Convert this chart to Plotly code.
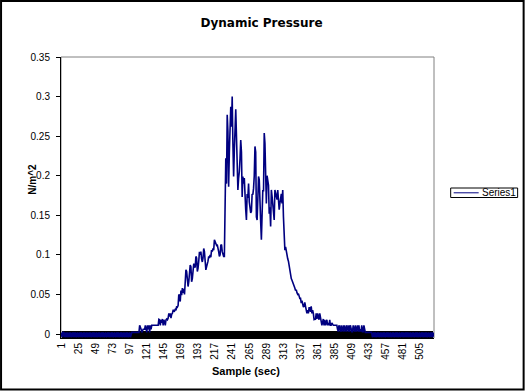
import plotly.graph_objects as go

# ---------------- data ----------------
title_text = "Dynamic Pressure"
x_title = "Sample (sec)"
y_title = "N/m^2"
series_name = "Series1"

# samples 1-99 : baseline with small flicker
seg_start = [
    0.002, -0.004, 0.002, 0.002, -0.004, 0.002, -0.004, 0.002, 0.002, -0.004,
    0.002, 0.002, -0.004, 0.002, -0.004, 0.002, 0.002, -0.004, 0.002, -0.004,
    0.002, -0.004, 0.002, 0.002, -0.004, 0.002, 0.002, -0.004, 0.002, -0.004,
    0.002, 0.002, -0.004, 0.002, -0.004, 0.002, 0.002, -0.004, 0.002, 0.002,
    -0.004, 0.002, -0.004, 0.002, 0.002, -0.004, 0.002, -0.004, 0.002, 0.002,
    -0.004, 0.002, 0.002, -0.004, 0.002, -0.004, 0.002, 0.002, -0.004, 0.002,
    -0.004, 0.002, 0.002, -0.004, 0.002, 0.002, -0.004, 0.002, -0.004, 0.002,
    0.002, -0.004, 0.002, -0.004, 0.002, 0.002, -0.004, 0.002, 0.002, -0.004,
    0.002, -0.004, 0.002, 0.002, -0.004, 0.002, -0.004, 0.002, 0.002, -0.004,
    0.002, 0.002, -0.004, 0.002, -0.004, 0.002, 0.002, -0.004, 0.002,
]

# samples 100-230 : slow rise
seg_rise = [
    0.002, 0.002, 0.002, 0.002, 0.002, 0.002, 0.002, 0.002, 0.002, 0.002, 0.002,
    0.011,
    0.006, 0.006, 0.002, 0.006, 0.006, 0.006, 0.006,
    0.011, 0.006, 0.002, 0.011, 0.006, 0.011, 0.002, 0.011, 0.006, 0.011, 0.011,
    0.011, 0.011, 0.011, 0.011, 0.011, 0.011, 0.011, 0.011,
    0.0185, 0.018,
    0.011, 0.018, 0.014, 0.019, 0.011, 0.018, 0.015, 0.011, 0.018, 0.019, 0.018,
    0.020, 0.026, 0.022, 0.026, 0.020, 0.025, 0.026,
    0.030, 0.030, 0.029, 0.031, 0.030,
    0.035, 0.034, 0.036,
    0.050, 0.049, 0.041,
    0.055, 0.049, 0.058, 0.052, 0.057, 0.050,
    0.062, 0.081, 0.079, 0.070,
    0.060, 0.066, 0.075,
    0.087, 0.085, 0.066,
    0.070, 0.081, 0.089, 0.085, 0.084,
    0.098, 0.096,
    0.079, 0.083, 0.092,
    0.104, 0.100, 0.104, 0.095,
    0.091, 0.096,
    0.108, 0.104, 0.092,
    0.081, 0.085, 0.088, 0.092,
    0.098, 0.096, 0.100, 0.097,
    0.106, 0.104, 0.108, 0.106,
    0.119, 0.116,
    0.113, 0.112, 0.113, 0.110, 0.104,
    0.098, 0.100,
    0.112, 0.113, 0.104,
    0.098, 0.098, 0.098,
]

# samples 231-317 : peak
seg_peak = [
    0.159, 0.222, 0.190, 0.277, 0.256, 0.186, 0.230, 0.270, 0.287, 0.262,
    0.300, 0.240, 0.199, 0.232, 0.265, 0.284, 0.250, 0.211, 0.182, 0.197,
    0.205, 0.222, 0.245, 0.230, 0.173, 0.199, 0.190, 0.197, 0.168, 0.157,
    0.144, 0.177, 0.172, 0.190, 0.167, 0.159, 0.153, 0.155, 0.177, 0.176,
    0.184, 0.200, 0.237, 0.230, 0.148, 0.144, 0.170, 0.199, 0.195, 0.144,
    0.142, 0.119, 0.150, 0.182, 0.180, 0.254, 0.241, 0.200, 0.165, 0.200,
    0.190, 0.188, 0.152, 0.160, 0.136, 0.182, 0.174, 0.165, 0.160, 0.144,
    0.182, 0.178, 0.176, 0.170, 0.182, 0.168, 0.157, 0.165, 0.172, 0.177,
    0.165, 0.182, 0.148, 0.127, 0.106, 0.110, 0.104,
]

# samples 318-437 : decay
seg_decay = [
    0.096, 0.095, 0.092, 0.085, 0.078, 0.072, 0.070, 0.068, 0.066, 0.062,
    0.060, 0.058, 0.055, 0.056, 0.052, 0.050, 0.051, 0.047, 0.045,
    0.045, 0.039, 0.042,
    0.035, 0.034, 0.035,
    0.040, 0.035,
    0.026, 0.026, 0.030, 0.026,
    0.033, 0.033, 0.028,
    0.035, 0.026, 0.030, 0.026,
    0.0185, 0.019, 0.018,
    0.026, 0.019, 0.026, 0.022, 0.018, 0.026, 0.019,
    0.018, 0.011, 0.015, 0.019, 0.011, 0.018, 0.011, 0.015,
    0.018, 0.011, 0.014, 0.011, 0.018, 0.011, 0.011, 0.014,
    0.011, 0.011, 0.011, 0.011, 0.011, 0.011, 0.011,
    0.006, 0.003, 0.011, 0.006, 0.003, 0.011, 0.003, 0.006, 0.011, 0.003,
    0.011, 0.006, 0.003, 0.011, 0.006, 0.003, 0.011, 0.003, 0.011, 0.006,
    0.003, 0.003, 0.011, 0.006, 0.003, 0.011, 0.003, 0.006, 0.011, 0.003,
    0.011, 0.003, 0.006, 0.003, 0.011, 0.003, 0.003,
    0.011,
    0.002, 0.002, 0.002, 0.002, 0.002, 0.002, 0.002, 0.002, 0.002, 0.002, 0.002,
]

# samples 438-524 : baseline with small flicker
seg_tail = [
    -0.004, 0.002, 0.002, -0.004, 0.002, -0.004, 0.002, 0.002, -0.004, 0.002,
    -0.004, 0.002, 0.002, -0.004, 0.002, 0.002, -0.004, 0.002, -0.004, 0.002,
    0.002, -0.004, 0.002, -0.004, 0.002, 0.002, -0.004, 0.002, 0.002, -0.004,
    0.002, -0.004, 0.002, 0.002, -0.004, 0.002, -0.004, 0.002, 0.002, -0.004,
    0.002, 0.002, -0.004, 0.002, -0.004, 0.002, 0.002, -0.004, 0.002, -0.004,
    0.002, -0.004, 0.002, 0.002, -0.004, 0.002, 0.002, -0.004, 0.002, -0.004,
    0.002, 0.002, -0.004, 0.002, -0.004, 0.002, 0.002, -0.004, 0.002, 0.002,
    -0.004, 0.002, -0.004, 0.002, 0.002, -0.004, 0.002, -0.004, 0.002, 0.002,
    -0.004, 0.002, 0.002, -0.004, 0.002, -0.004, 0.002,
]

pressure = seg_start + seg_rise + seg_peak + seg_decay + seg_tail
samples = list(range(1, len(pressure) + 1))

x_tick_vals = [1, 25, 49, 73, 97, 121, 145, 169, 193, 217, 241, 265, 289, 313,
               337, 361, 385, 409, 433, 457, 481, 505]
x_tick_text = [str(v) for v in x_tick_vals]
y_tick_vals = [0, 0.05, 0.1, 0.15, 0.2, 0.25, 0.3, 0.35]
y_tick_text = ["0", "0.05", "0.1", "0.15", "0.2", "0.25", "0.3", "0.35"]

# ---------------- figure ----------------
W, H = 526, 391
L, R, T, B = 61, 434.3, 57, 338
pw, ph = R - L, B - T


def px(x):
    return (x - L) / pw


def py(y):
    return (B - y) / ph


navy = "#000080"
fig = go.Figure()
fig.add_trace(go.Scatter(
    x=samples, y=pressure, mode="lines", name=series_name,
    line=dict(color=navy, width=1.6), showlegend=False,
))

tick_font = dict(family="Liberation Sans, Arial, sans-serif", size=10, color="black")

fig.update_layout(
    width=W, height=H,
    margin=dict(l=L, r=W - R, t=T, b=H - B, pad=0),
    paper_bgcolor="white", plot_bgcolor="white",
    title=dict(text=title_text, x=261.5 / W, xref="container", xanchor="center",
               y=1 - 22.5 / H, yref="container", yanchor="middle",
               font=dict(family="DejaVu Sans, sans-serif", size=12, color="black",
                         weight="bold")),
    xaxis=dict(
        range=[0.5, len(pressure) + 0.5], tickmode="array",
        tickvals=x_tick_vals, ticktext=x_tick_text, tickangle=-90,
        ticks="inside", ticklen=7, tickwidth=1, tickcolor="black",
        minor=dict(ticks="inside", dtick=1, tick0=0.5, ticklen=7,
                   tickwidth=1, tickcolor="black", showgrid=False),
        showline=True, linecolor="black", linewidth=1,
        showgrid=False, zeroline=False, tickfont=tick_font,
        layer="below traces", fixedrange=True,
    ),
    yaxis=dict(
        range=[-0.00505, 0.35], tickmode="array",
        tickvals=y_tick_vals, ticktext=y_tick_text,
        ticks="outside", ticklen=4, tickwidth=1, tickcolor="black",
        ticklabelstandoff=4,
        showline=True, linecolor="black", linewidth=1,
        showgrid=False, zeroline=False, tickfont=tick_font,
        layer="below traces", fixedrange=True,
    ),
)

shapes = [
    # plot area border (grey)
    dict(type="rect", xref="paper", yref="paper", x0=0, x1=1, y0=0, y1=1,
         line=dict(color="#808080", width=1), layer="below"),
    # outer chart border
    dict(type="rect", xref="paper", yref="paper",
         x0=px(1), x1=px(524), y0=py(389.5), y1=py(1),
         line=dict(color="black", width=2)),
    # legend box
    dict(type="rect", xref="paper", yref="paper",
         x0=px(451), x1=px(518), y0=py(197.5), y1=py(188),
         line=dict(color="black", width=1), fillcolor="white"),
    # legend line sample
    dict(type="line", xref="paper", yref="paper",
         x0=px(454), x1=px(479), y0=py(192.8), y1=py(192.8),
         line=dict(color=navy, width=1)),
]
fig.update_layout(shapes=shapes)

fig.add_annotation(text=series_name, xref="paper", yref="paper",
                   x=px(480), y=py(192.8), xanchor="left", yanchor="middle",
                   showarrow=False,
                   font=dict(family="Liberation Sans, Arial, sans-serif", size=10, color="black"))
fig.add_annotation(text=y_title, xref="paper", yref="paper",
                   x=px(31.7), y=py(179), xanchor="center", yanchor="middle",
                   textangle=-90, showarrow=False,
                   font=dict(family="Liberation Sans, Arial, sans-serif", size=10,
                             color="black", weight="bold"))
fig.add_annotation(text=x_title, xref="paper", yref="paper",
                   x=px(246.5), y=py(371), xanchor="center", yanchor="middle",
                   showarrow=False,
                   font=dict(family="Liberation Sans, Arial, sans-serif", size=11,
                             color="black", weight="bold"))

fig.write_html("out.html",
               config={"displayModeBar": False, "staticPlot": True},
               post_script="document.body.style.margin='0';"
                           "document.body.style.overflow='hidden';")
